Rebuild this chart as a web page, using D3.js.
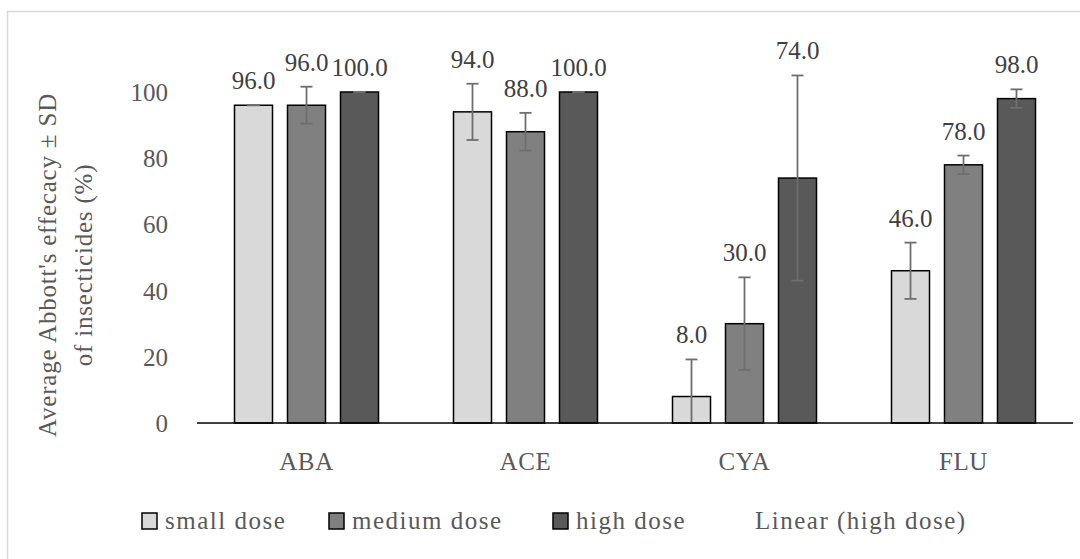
<!DOCTYPE html>
<html>
<head>
<meta charset="utf-8">
<script src="https://cdn.jsdelivr.net/npm/d3@7"></script>
<style>
  html, body { margin: 0; padding: 0; background: #fff; }
  svg { display: block; }
  text { font-family: "Palatino Linotype", "Book Antiqua", Palatino, "Liberation Serif", serif; }
</style>
</head>
<body>
<svg id="chart" width="1080" height="559"></svg>
<script>
// ---- data ----
const categories = ["ABA", "ACE", "CYA", "FLU"];
const seriesNames = ["small dose", "medium dose", "high dose"];
const smallDose = [96, 94, 8, 46];
const mediumDose = [96, 88, 30, 78];
const highDose = [100, 100, 74, 98];
const smallSD = [0, 8.5, 11.2, 8.5];
const mediumSD = [5.6, 5.7, 14, 2.8];
const highSD = [0, 0, 31, 2.8];
const yTicks = [0, 20, 40, 60, 80, 100];
const trendLegend = "Linear (high dose)";
const yTitle = ["Average Abbott's effecacy ± SD", "of insecticides (%)"];

const seriesValues = [smallDose, mediumDose, highDose];
const seriesSD = [smallSD, mediumSD, highSD];
const colors = ["#d9d9d9", "#808080", "#595959"];

const svg = d3.select("#chart");

// outer border
svg.append("rect")
  .attr("x", 7.5).attr("y", 11.5)
  .attr("width", 1100).attr("height", 600)
  .attr("fill", "none").attr("stroke", "#d9d9d9").attr("stroke-width", 1.5);

const x0 = d3.scaleBand().domain(categories).range([197, 1073])
  .paddingInner(75 / 219).paddingOuter(75 / 438);
const x1 = d3.scaleBand().domain(seriesNames).range([0, x0.bandwidth()])
  .paddingInner(15 / 53).paddingOuter(0);
const y = d3.scaleLinear().domain([0, 100]).range([423, 92]);

// y tick labels
const yAxis = d3.axisLeft(y).tickValues(yTicks).tickSize(0).tickPadding(0).tickFormat(d3.format("d"));
const gy = svg.append("g").attr("transform", "translate(168,0)").call(yAxis);
gy.select(".domain").remove();
gy.selectAll("text").attr("font-size", 25).attr("fill", "#595959")
  .attr("font-family", null).attr("dy", "0.34em");

// bars
const data = [];
categories.forEach((c, i) => {
  seriesNames.forEach((s, j) => {
    data.push({ cat: c, ser: s, j, v: seriesValues[j][i], sd: seriesSD[j][i] });
  });
});

const g = svg.append("g");
g.selectAll("rect.bar").data(data).join("rect")
  .attr("class", "bar")
  .attr("x", d => x0(d.cat) + x1(d.ser))
  .attr("y", d => y(d.v))
  .attr("width", x1.bandwidth())
  .attr("height", d => y(0) - y(d.v))
  .attr("fill", d => colors[d.j])
  .attr("stroke", "#000").attr("stroke-width", 1.5);

// x axis line
const xAxis = d3.axisBottom(x0).tickSize(0).tickPadding(0);
const gx = svg.append("g").attr("transform", `translate(0,${y(0)})`).call(xAxis);
gx.select(".domain").attr("stroke", "#000").attr("stroke-width", 1.5)
  .attr("d", "M197,0H1073");
gx.selectAll("text").attr("font-size", 25).attr("fill", "#595959")
  .attr("font-family", null).attr("dy", null).attr("y", 47)
  .attr("letter-spacing", 0.6);

// error bars
const eb = g.selectAll("g.err").data(data).join("g").attr("class", "err")
  .attr("stroke", "#6e6e6e").attr("stroke-width", 1.8);
const cx = d => x0(d.cat) + x1(d.ser) + x1.bandwidth() / 2;
eb.append("line")
  .attr("x1", cx).attr("x2", cx)
  .attr("y1", d => y(d.v + d.sd))
  .attr("y2", d => y(Math.max(0, d.v - d.sd)));
eb.append("line")
  .attr("x1", d => cx(d) - 6).attr("x2", d => cx(d) + 6)
  .attr("y1", d => y(d.v + d.sd)).attr("y2", d => y(d.v + d.sd));
eb.filter(d => d.v - d.sd > 0).append("line")
  .attr("x1", d => cx(d) - 6).attr("x2", d => cx(d) + 6)
  .attr("y1", d => y(d.v - d.sd)).attr("y2", d => y(d.v - d.sd));

// data labels
g.selectAll("text.lbl").data(data).join("text")
  .attr("class", "lbl")
  .attr("x", cx)
  .attr("y", d => y(d.v + d.sd) - 16)
  .attr("text-anchor", "middle")
  .attr("font-size", 25).attr("fill", "#404040")
  .text(d => d3.format(".1f")(d.v));

// y title
const yt = svg.append("text")
  .attr("transform", "translate(0,265) rotate(-90)")
  .attr("text-anchor", "middle")
  .attr("font-size", 25).attr("fill", "#595959")
  .attr("letter-spacing", 0.8);
yt.append("tspan").attr("x", 0).attr("y", 56).text(yTitle[0]);
yt.append("tspan").attr("x", 0).attr("y", 92).text(yTitle[1]);

// legend
const legX = [142, 329, 553];
const leg = svg.append("g");
seriesNames.forEach((s, j) => {
  leg.append("rect").attr("x", legX[j]).attr("y", 513)
    .attr("width", 15).attr("height", 16)
    .attr("fill", colors[j]).attr("stroke", "#000").attr("stroke-width", 1.5);
  leg.append("text").attr("x", legX[j] + 23).attr("y", 529)
    .attr("font-size", 25).attr("fill", "#595959").attr("letter-spacing", 1.5).text(s);
});
leg.append("text").attr("x", 755).attr("y", 529)
  .attr("font-size", 25).attr("fill", "#595959").attr("letter-spacing", 1.5).text(trendLegend);
</script>
</body>
</html>
